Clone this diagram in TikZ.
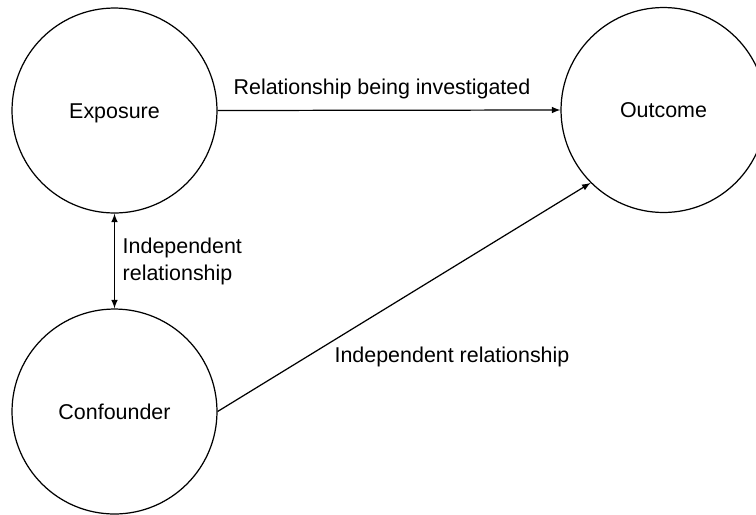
\documentclass[tikz,border=0pt]{standalone}
\usepackage{fontspec}
\setmainfont{Liberation Sans}
\usetikzlibrary{arrows}

\begin{document}
\begin{tikzpicture}[
			x=0.02cm, y=-0.02cm,
			font=\fontsize{12.2}{15.4}\selectfont,
			factor/.style={circle,draw=black,line width=0.7pt,
			inner sep=0pt,minimum size=4.1cm,text height=8.8pt,text depth=0pt},
			link/.style={>=latex,draw=black,line width=0.7pt}
			]
			\useasboundingbox (0,0) rectangle (756,514);
			\node[factor] (exp) at (114.5,110.5) {Exposure};
			\node[factor] (out) at (663.5,110)   {Outcome};
			\node[factor] (con) at (114.5,411.5) {Confounder};
			\draw[link,->] (exp.east) -- (out.west) node[midway,above=3pt,xshift=-4pt] (lab1)
				{Relationship being investigated};
			\draw[link,<->] (exp.south) -- (con.north) node[midway,right,align=left,xshift=1pt] (lab2)
				{Independent\\relationship};
			\draw[link,->] (con.east) -- (out.225);
			\node (lab3) at (452,357) {Independent relationship};
		\end{tikzpicture}
\end{document}
